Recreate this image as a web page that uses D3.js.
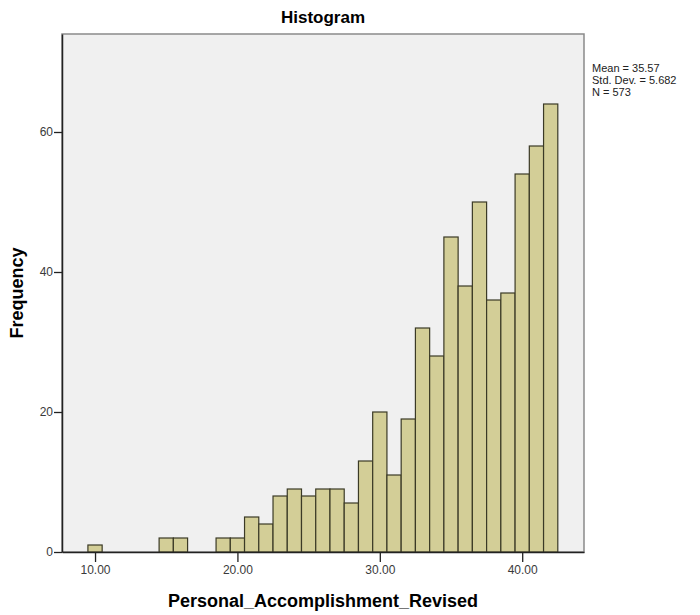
<!DOCTYPE html>
<html>
<head>
<meta charset="utf-8">
<script src="https://cdn.jsdelivr.net/npm/d3@7"></script>
<style>
  body { margin: 0; background: #fff; }
  svg text { font-family: "Liberation Sans", Arial, sans-serif; }
  .tick text { fill: #3a3a3a; font-size: 12px; }
</style>
</head>
<body>
<div id="chart"></div>
<script>
// bin midpoints (width 1) and their counts
const binCenters = [10, 15, 16, 19, 20, 21, 22, 23, 24, 25, 26, 27, 28, 29, 30,
                    31, 32, 33, 34, 35, 36, 37, 38, 39, 40, 41, 42];
const frequencies = [1, 2, 2, 2, 2, 5, 4, 8, 9, 8, 9, 9, 7, 13, 20,
                     11, 19, 32, 28, 45, 38, 50, 36, 37, 54, 58, 64];
const xTicks = [10, 20, 30, 40];
const yTicks = [0, 20, 40, 60];
const statsLines = ['Mean = 35.57', 'Std. Dev. = 5.682', 'N = 573'];

const binWidth = 1;
const width = 700, height = 615;
const margin = { top: 34, right: 116, bottom: 63, left: 62 };
const innerW = width - margin.left - margin.right;
const innerH = height - margin.top - margin.bottom;

const svg = d3.select('#chart').append('svg')
    .attr('width', width)
    .attr('height', height);

const g = svg.append('g')
    .attr('transform', `translate(${margin.left},${margin.top})`);

const x = d3.scaleLinear().domain([7.68, 44.34]).range([0, innerW]);
const y = d3.scaleLinear().domain([0, 74]).range([innerH, 0]);

// plot background + frame
g.append('rect')
    .attr('width', innerW)
    .attr('height', innerH)
    .attr('fill', '#f0f0f0')
    .attr('stroke', '#8a8a8a')
    .attr('stroke-width', 1.5);

// bars
const bins = binCenters.map((c, i) => ({ x0: c - binWidth / 2, x1: c + binWidth / 2, n: frequencies[i] }));
g.selectAll('.bar')
    .data(bins)
    .join('rect')
    .attr('class', 'bar')
    .attr('x', d => x(d.x0))
    .attr('width', d => x(d.x1) - x(d.x0))
    .attr('y', d => y(d.n))
    .attr('height', d => y(0) - y(d.n))
    .attr('fill', '#d3ce97')
    .attr('stroke', '#3b3a26')
    .attr('stroke-width', 1.2);

// axes
const xAxis = g.append('g')
    .attr('transform', `translate(0,${innerH})`)
    .call(d3.axisBottom(x).tickValues(xTicks).tickFormat(d3.format('.2f')).tickSize(10).tickSizeOuter(0));
const yAxis = g.append('g')
    .call(d3.axisLeft(y).tickValues(yTicks).tickSize(8).tickSizeOuter(0));

[xAxis, yAxis].forEach(a => {
    a.select('.domain').attr('stroke', '#222').attr('stroke-width', 1.5);
    a.selectAll('.tick line').attr('stroke', '#222').attr('stroke-width', 1.3);
});
xAxis.selectAll('.tick text').attr('dy', '0.9em').attr('y', 11);
yAxis.selectAll('.tick text').attr('x', -9);

// title + axis labels
svg.append('text')
    .attr('x', margin.left + innerW / 2)
    .attr('y', 23)
    .attr('text-anchor', 'middle')
    .attr('font-size', 17)
    .attr('font-weight', 'bold')
    .text('Histogram');

svg.append('text')
    .attr('x', margin.left + innerW / 2)
    .attr('y', 607)
    .attr('text-anchor', 'middle')
    .attr('font-size', 18)
    .attr('font-weight', 'bold')
    .text('Personal_Accomplishment_Revised');

svg.append('text')
    .attr('transform', `translate(23,${margin.top + innerH / 2}) rotate(-90)`)
    .attr('text-anchor', 'middle')
    .attr('font-size', 18)
    .attr('font-weight', 'bold')
    .text('Frequency');

// stats box text
svg.append('g').selectAll('text')
    .data(statsLines)
    .join('text')
    .attr('x', 592)
    .attr('y', (d, i) => 72 + i * 12)
    .attr('font-size', 11)
    .attr('fill', '#222')
    .text(d => d);
</script>
</body>
</html>
